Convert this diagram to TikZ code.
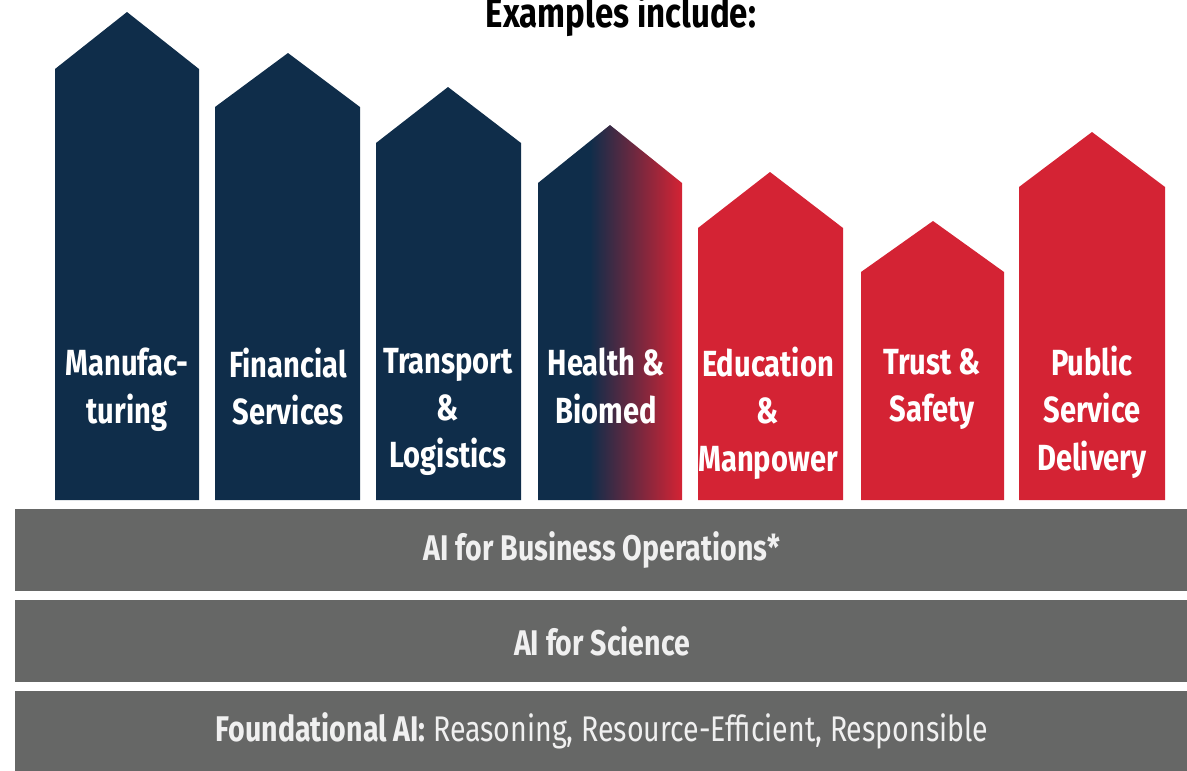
\documentclass[tikz,border=0pt]{standalone}
\usepackage{fontspec}
\setmainfont{Fira Sans}[FakeStretch=0.8]
\usetikzlibrary{positioning}
\definecolor{navy}{RGB}{15,45,74}
\definecolor{crimson}{RGB}{212,35,52}
\definecolor{slate}{RGB}{102,103,102}
\pgfdeclarehorizontalshading{healthgrad}{100bp}{color(0bp)=(navy); color(43bp)=(navy); color(75bp)=(crimson); color(100bp)=(crimson)}
\tikzset{pilltext/.style={anchor=north,align=center,inner sep=0pt,text=white,font=\bfseries\fontsize{20.7}{26.8}\selectfont}}
\tikzset{layer/.style={fill=slate,inner sep=0pt,minimum width=23.5cm,minimum height=1.64cm,text=white!94!black,font=\fontsize{20.3}{24}\selectfont}}

\begin{document}
\begin{tikzpicture}[x=0.02cm,y=-0.02cm]
\useasboundingbox (0,0) rectangle (1187,771);
\node(Title) at (621,27) [anchor=base,inner sep=0pt,font=\bfseries\fontsize{23.5}{28}\selectfont] {Examples include:};

% pillars
\fill[navy] (55,500) -- (55,69) -- (127,12) -- (199,69) -- (199,500) -- cycle;
\fill[navy] (215,500) -- (215,107) -- (288,53) -- (360,107) -- (360,500) -- cycle;
\fill[navy] (376,500) -- (376,143) -- (448,87) -- (521,143) -- (521,500) -- cycle;
\shade[shading=healthgrad] (538,500) -- (538,183) -- (610,125) -- (682,183) -- (682,500) -- cycle;
\fill[crimson] (698,500) -- (698,228) -- (770,172) -- (843,228) -- (843,500) -- cycle;
\fill[crimson] (861,500) -- (861,272) -- (933,221) -- (1004,272) -- (1004,500) -- cycle;
\fill[crimson] (1019,500) -- (1019,187) -- (1092,132) -- (1165,187) -- (1165,500) -- cycle;

\node(Manuf) at (127,348) [pilltext] {Manufac-\\turing};
\node(Finance) at (288,348) [pilltext] {Financial\\Services};
\node(Transport) at (448,348) [pilltext] {Transport\\\&\\Logistics};
\node(Health) at (606,348) [pilltext] {Health \&\\Biomed};
\node(Edu) at (768,347) [pilltext] {Education\\\&\\Manpower};
\node(Trust) at (932,348) [pilltext] {Trust \&\\Safety};
\node(Public) at (1092,346) [pilltext] {Public\\Service\\Delivery};

% layers
\node(Ops) at (602,550) [layer] {\textbf{AI for Business Operations*}};
\node(Sci) at (602,641) [layer] {\textbf{AI for Science}};
\node(Found) at (602,731) [layer,minimum height=1.6cm] {\textbf{Foundational AI:} Reasoning, Resource-Efficient, Responsible};
\end{tikzpicture}
\end{document}
